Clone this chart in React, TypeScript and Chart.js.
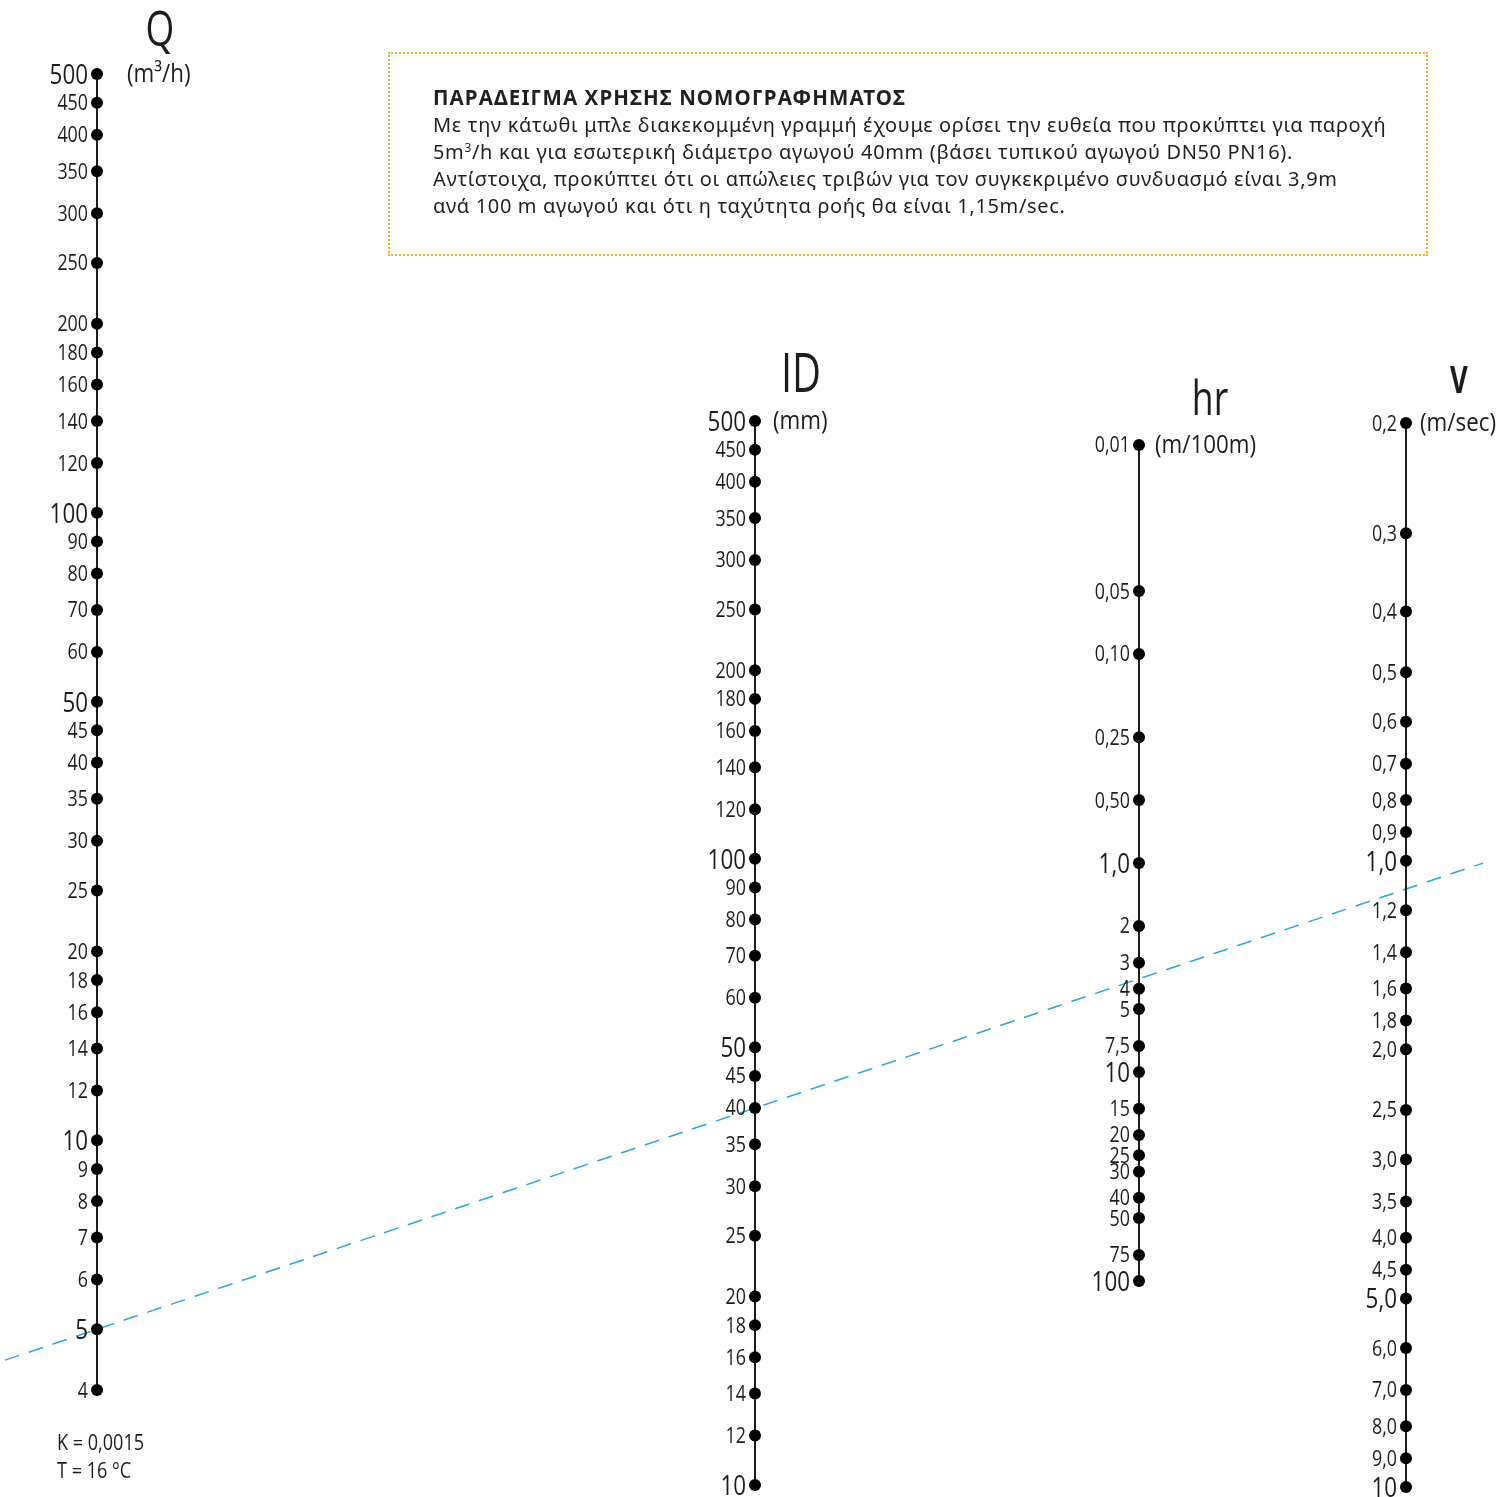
import React, { useEffect, useRef } from 'react';
import { Chart, registerables } from 'chart.js';

Chart.register(...registerables);

// ---------- DATA ----------
const qValues = [500, 450, 400, 350, 300, 250, 200, 180, 160, 140, 120, 100, 90, 80, 70, 60, 50, 45, 40, 35, 30, 25, 20, 18, 16, 14, 12, 10, 9, 8, 7, 6, 5, 4];
const qLabels = qValues.map((v) => String(v));
const qMajor = [500, 100, 50, 10, 5];

const idValues = [500, 450, 400, 350, 300, 250, 200, 180, 160, 140, 120, 100, 90, 80, 70, 60, 50, 45, 40, 35, 30, 25, 20, 18, 16, 14, 12, 10];
const idLabels = idValues.map((v) => String(v));
const idMajor = [500, 100, 50, 10];

const hrValues = [0.01, 0.05, 0.1, 0.25, 0.5, 1, 2, 3, 4, 5, 7.5, 10, 15, 20, 25, 30, 40, 50, 75, 100];
const hrLabels = ['0,01', '0,05', '0,10', '0,25', '0,50', '1,0', '2', '3', '4', '5', '7,5', '10', '15', '20', '25', '30', '40', '50', '75', '100'];
const hrMajor = [1, 10, 100];

const vValues = [0.2, 0.3, 0.4, 0.5, 0.6, 0.7, 0.8, 0.9, 1.0, 1.2, 1.4, 1.6, 1.8, 2.0, 2.5, 3.0, 3.5, 4.0, 4.5, 5.0, 6.0, 7.0, 8.0, 9.0, 10];
const vLabels = ['0,2', '0,3', '0,4', '0,5', '0,6', '0,7', '0,8', '0,9', '1,0', '1,2', '1,4', '1,6', '1,8', '2,0', '2,5', '3,0', '3,5', '4,0', '4,5', '5,0', '6,0', '7,0', '8,0', '9,0', '10'];
const vMajor = [1, 5, 10];

const axisTitles = ['Q', 'ID', 'hr', 'V'];
const axisUnits = ['(m³/h)', '(mm)', '(m/100m)', '(m/sec)'];

// example (dashed line): Q = 5 m3/h through ID = 40 mm
const exampleQ = 5;
const exampleID = 40;

const noteTitle = 'ΠΑΡΑΔΕΙΓΜΑ ΧΡΗΣΗΣ ΝΟΜΟΓΡΑΦΗΜΑΤΟΣ';
const noteLine1 = 'Με την κάτωθι μπλε διακεκομμένη γραμμή έχουμε ορίσει την ευθεία που προκύπτει για παροχή';
const noteLine2a = '5m';
const noteLine2sup = '3';
const noteLine2b = '/h και για εσωτερική διάμετρο αγωγού 40mm (βάσει τυπικού αγωγού DN50 PN16).';
const noteLine3 = 'Αντίστοιχα, προκύπτει ότι οι απώλειες τριβών για τον συγκεκριμένο συνδυασμό είναι 3,9m';
const noteLine4 = 'ανά 100 m αγωγού και ότι η ταχύτητα ροής θα είναι 1,15m/sec.';
const footLines = ['K = 0,0015', 'T = 16 °C'];

// ---------- LAYOUT (not data) ----------
const W = 1512;
const H = 1497;
const AXES = [
  { id: 'yQ', values: qValues, labels: qLabels, major: qMajor, x: 97, min: 2.7017, max: 656.1, reverse: false, tDx: 63, tDy: -46, tSize: 50, tWeight: '400', uDx: 30 },
  { id: 'yID', values: idValues, labels: idLabels, major: idMajor, x: 755, min: 9.568, max: 2351, reverse: false, tDx: 46, tDy: -48, tSize: 54, tWeight: '400', uDx: 18 },
  { id: 'yHR', values: hrValues, labels: hrLabels, major: hrMajor, x: 1139, min: 7.43e-5, max: 1080, reverse: true, tDx: 71, tDy: -47, tSize: 48, tWeight: '400', uDx: 16 },
  { id: 'yV', values: vValues, labels: vLabels, major: vMajor, x: 1406, min: 0.04222, max: 10.375, reverse: true, tDx: 53, tDy: -43, tSize: 37, tWeight: '700', uDx: 14 },
];
const LINE_FROM_X = 5;
const LINE_TO_X = 1483;
const FONT = '"Open Sans", "Noto Sans", sans-serif';
const INK = '#1d1d1b';

function drawText(ctx: CanvasRenderingContext2D, text: string, x: number, yCenter: number, size: number, weight: string, align: CanvasTextAlign, sx: number) {
  ctx.save();
  ctx.translate(x, yCenter + size * 0.357);
  ctx.scale(sx, 1);
  ctx.font = `${weight} ${size}px ${FONT}`;
  ctx.textAlign = align;
  ctx.textBaseline = 'alphabetic';
  ctx.fillStyle = INK;
  ctx.fillText(text, 0, 0);
  ctx.restore();
}

const nomogramPlugin = {
  id: 'nomogram',
  beforeDatasetsDraw(chart: any) {
    const ctx: CanvasRenderingContext2D = chart.ctx;
    const xs = chart.scales.x;
    const x1 = xs.getPixelForValue(AXES[0].x);
    const y1 = chart.scales.yQ.getPixelForValue(exampleQ);
    const x2 = xs.getPixelForValue(AXES[1].x);
    const y2 = chart.scales.yID.getPixelForValue(exampleID);
    const slope = (y2 - y1) / (x2 - x1);
    const xa = xs.getPixelForValue(LINE_FROM_X);
    const xb = xs.getPixelForValue(LINE_TO_X);
    ctx.save();
    ctx.strokeStyle = '#29a7df';
    ctx.lineWidth = 1.5;
    ctx.setLineDash([15, 10]);
    ctx.beginPath();
    ctx.moveTo(xa, y1 + (xa - x1) * slope);
    ctx.lineTo(xb, y1 + (xb - x1) * slope);
    ctx.stroke();
    ctx.restore();
  },
  afterDatasetsDraw(chart: any) {
    const ctx: CanvasRenderingContext2D = chart.ctx;
    AXES.forEach((ax, di) => {
      const meta = chart.getDatasetMeta(di);
      meta.data.forEach((pt: any, i: number) => {
        const isMajor = ax.major.includes(ax.values[i]);
        const size = isMajor ? 28 : 21;
        drawText(ctx, ax.labels[i], pt.x - 9, pt.y, size, '500', 'right', isMajor ? 0.8 : 0.85);
      });
      const top = meta.data[0];
      drawText(ctx, axisTitles[di], top.x + ax.tDx, top.y + ax.tDy, ax.tSize, ax.tWeight, 'center', 0.74);
      drawText(ctx, axisUnits[di], top.x + ax.uDx, top.y - 1, 26, '500', 'left', 0.86);
    });
    // footnote
    const qMeta = chart.getDatasetMeta(0);
    const last = qMeta.data[qMeta.data.length - 1];
    footLines.forEach((t, i) => {
      drawText(ctx, t, last.x - 40, last.y + 52 + i * 28, 21, '500', 'left', 0.86);
    });
  },
};

export default function App() {
  const ref = useRef<HTMLCanvasElement | null>(null);
  useEffect(() => {
    if (!ref.current) return;
    const scales: any = { x: { type: 'linear', min: 0, max: W, display: false } };
    AXES.forEach((ax) => {
      scales[ax.id] = { type: 'logarithmic', min: ax.min, max: ax.max, reverse: ax.reverse, display: false, bounds: 'data' };
    });
    const chart = new Chart(ref.current, {
      type: 'scatter',
      data: {
        datasets: AXES.map((ax) => ({
          label: ax.id,
          yAxisID: ax.id,
          xAxisID: 'x',
          data: ax.values.map((v) => ({ x: ax.x, y: v })),
          showLine: true,
          borderColor: INK,
          borderWidth: 2,
          pointRadius: 6,
          pointHoverRadius: 6,
          pointBackgroundColor: '#000',
          pointBorderWidth: 0,
          clip: false,
        })),
      } as any,
      options: {
        responsive: false,
        animation: false,
        events: [],
        layout: { padding: 0, autoPadding: false },
        plugins: { legend: { display: false }, tooltip: { enabled: false }, title: { display: false } },
        scales,
      } as any,
      plugins: [nomogramPlugin],
    });
    return () => chart.destroy();
  }, []);

  const body: React.CSSProperties = { letterSpacing: '0.65px' };

  return (
    <div style={{ position: 'absolute', left: 0, top: 0, width: W, height: H, background: '#fff' }}>
      <canvas ref={ref} width={W} height={H} style={{ display: 'block', width: W, height: H }} />
      <div
        style={{
          position: 'absolute',
          left: 388,
          top: 52,
          width: 1040,
          height: 204,
          boxSizing: 'border-box',
          border: '2px dotted #f5b324',
          padding: '30px 0 0 43px',
          fontFamily: '"Noto Sans", sans-serif',
          fontSize: 20,
          lineHeight: '27px',
          color: '#231f20',
          whiteSpace: 'nowrap',
        }}
      >
        <div style={{ fontWeight: 700, fontSize: 20.5, letterSpacing: '1.1px' }}>{noteTitle}</div>
        <div style={body}>{noteLine1}</div>
        <div style={body}>
          {noteLine2a}
          <span style={{ fontSize: 12, verticalAlign: 'top', lineHeight: '20px' }}>{noteLine2sup}</span>
          {noteLine2b}
        </div>
        <div style={body}>{noteLine3}</div>
        <div style={body}>{noteLine4}</div>
      </div>
    </div>
  );
}
